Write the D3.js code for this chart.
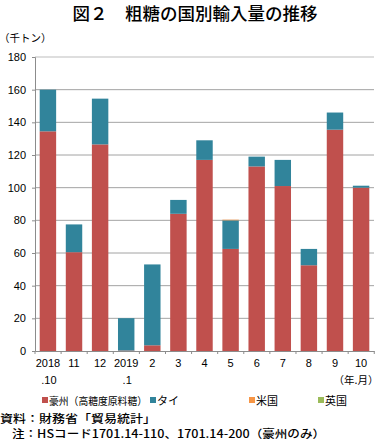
<!DOCTYPE html>
<html>
<head>
<meta charset="utf-8">
<script src="https://cdn.jsdelivr.net/npm/d3@7"></script>
<style>
body { margin: 0; background: #fff; }
svg { font-family: "Noto Sans CJK JP", "Noto Sans", sans-serif; }
</style>
</head>
<body>
<div id="chart"></div>
<script>
// months on the x axis
var months = ["2018\n.10", "11", "12", "2019\n.1", "2", "3", "4", "5", "6", "7", "8", "9", "10"];
// import volumes (thousand tons)
var australia = [134.5, 60.5, 126.5, 0.3, 3.5, 84, 117, 62.5, 113, 101, 52.5, 135.5, 100];
var thailand  = [25.5, 17, 28, 19.8, 49.5, 8.5, 12, 17.5, 6, 16, 10, 10.5, 1.2];
var usa       = [0, 0, 0, 0, 0, 0, 0, 0.4, 0, 0, 0, 0, 0];
var uk        = [0, 0, 0, 0, 0, 0, 0, 0, 0, 0, 0, 0, 0];
var seriesNames = ["豪州（高糖度原料糖）", "タイ", "米国", "英国"];
var seriesColors = ["#c0504d", "#31849b", "#f79646", "#9bbb59"];
var yTicks = [0, 20, 40, 60, 80, 100, 120, 140, 160, 180];

var W = 388, H = 444;
var margin = {left: 35, right: 14, top: 57, bottom: 93};

var svg = d3.select("#chart").append("svg")
	.attr("width", W).attr("height", H);

// title
svg.append("text")
	.attr("x", 195).attr("y", 20)
	.attr("text-anchor", "middle")
	.attr("font-size", 17.5)
	.attr("font-weight", 500)
	.text("図２　粗糖の国別輸入量の推移");

svg.append("text")
	.attr("x", -1).attr("y", 42)
	.attr("font-size", 10.5)
	.text("（千トン）");

var x = d3.scaleBand()
	.domain(d3.range(months.length))
	.range([margin.left, W - margin.right])
	.paddingInner(0.37).paddingOuter(0.18);

var y = d3.scaleLinear()
	.domain([0, 180])
	.range([H - margin.bottom, margin.top]);

// gridlines
svg.append("g").selectAll("line")
	.data(yTicks.filter(function(d){ return d > 0; }))
	.enter().append("line")
	.attr("x1", margin.left).attr("x2", W - margin.right)
	.attr("y1", function(d){ return y(d); })
	.attr("y2", function(d){ return y(d); })
	.attr("stroke", function(d){ return d == 180 ? "#bdbdbd" : "#8c8c8c"; })
	.attr("stroke-width", function(d){ return d == 180 ? 1.2 : 0.8; });

// stacked data
var rows = months.map(function(m, i) {
	return {i: i, s0: australia[i], s1: thailand[i], s2: usa[i], s3: uk[i]};
});
var stack = d3.stack().keys(["s0", "s1", "s2", "s3"]);
var layers = stack(rows);

svg.append("g").selectAll("g")
	.data(layers)
	.enter().append("g")
	.attr("fill", function(d, k){ return seriesColors[k]; })
	.selectAll("rect")
	.data(function(d){ return d; })
	.enter().append("rect")
	.attr("x", function(d){ return x(d.data.i); })
	.attr("width", x.bandwidth())
	.attr("y", function(d){ return y(d[1]); })
	.attr("height", function(d){ return Math.max(0, y(d[0]) - y(d[1])); });

// y axis
var yAxis = d3.axisLeft(y).tickValues(yTicks).tickSize(3).tickPadding(6);
var gy = svg.append("g")
	.attr("transform", "translate(" + margin.left + ",0)")
	.call(yAxis);
gy.select(".domain").attr("stroke", "#8c8c8c");
gy.selectAll(".tick line").attr("stroke", "#8c8c8c");
gy.selectAll("text").attr("font-size", 11).attr("fill", "#000")
	.attr("font-family", "Liberation Sans, Arial, sans-serif");

// x axis
var xAxis = d3.axisBottom(x).tickSize(0).tickFormat("");
var gx = svg.append("g")
	.attr("transform", "translate(0," + y(0) + ")")
	.call(xAxis);
gx.select(".domain").attr("stroke", "#8c8c8c");
// small ticks between the categories
var x0 = x(0) - x.step() * x.paddingOuter();
gx.selectAll(".sep").data(d3.range(months.length + 1))
	.enter().append("line")
	.attr("x1", function(d){ return x0 + d * x.step(); })
	.attr("x2", function(d){ return x0 + d * x.step(); })
	.attr("y1", 0).attr("y2", 3)
	.attr("stroke", "#8c8c8c");

var labels = svg.append("g")
	.attr("font-size", 11)
	.attr("font-family", "Liberation Sans, Arial, sans-serif");
months.forEach(function(m, i) {
	var parts = m.split("\n");
	parts.forEach(function(p, j) {
		labels.append("text")
			.attr("x", x(i) + x.bandwidth() / 2 + (j == 1 ? 1 : 0))
			.attr("y", y(0) + 16 + j * 17)
			.attr("text-anchor", "middle")
			.text(p);
	});
});
svg.append("text")
	.attr("x", 356).attr("y", y(0) + 33)
	.attr("text-anchor", "middle")
	.attr("font-size", 10.5)
	.text("（年.月）");

// legend
var legendX = [42, 150, 249, 318];
var legend = svg.append("g").attr("font-size", 11);
seriesNames.forEach(function(name, k) {
	legend.append("rect")
		.attr("x", legendX[k]).attr("y", 397)
		.attr("width", 6).attr("height", 6)
		.attr("fill", seriesColors[k]);
	var t = legend.append("text")
		.attr("x", legendX[k] + 7).attr("y", 405)
		.text(name);
	if (k == 0) t.attr("font-size", 10.5).attr("textLength", 98).attr("lengthAdjust", "spacingAndGlyphs");
});

// notes
svg.append("text")
	.attr("x", 0).attr("y", 423)
	.attr("font-size", 11)
	.attr("font-weight", 500)
	.attr("textLength", 156).attr("lengthAdjust", "spacingAndGlyphs")
	.text("資料：財務省「貿易統計」");
svg.append("text")
	.attr("x", 12).attr("y", 438)
	.attr("font-size", 11)
	.attr("font-weight", 500)
	.attr("textLength", 313).attr("lengthAdjust", "spacingAndGlyphs")
	.text("注：HSコード1701.14-110、1701.14-200（豪州のみ）");
</script>
</body>
</html>
